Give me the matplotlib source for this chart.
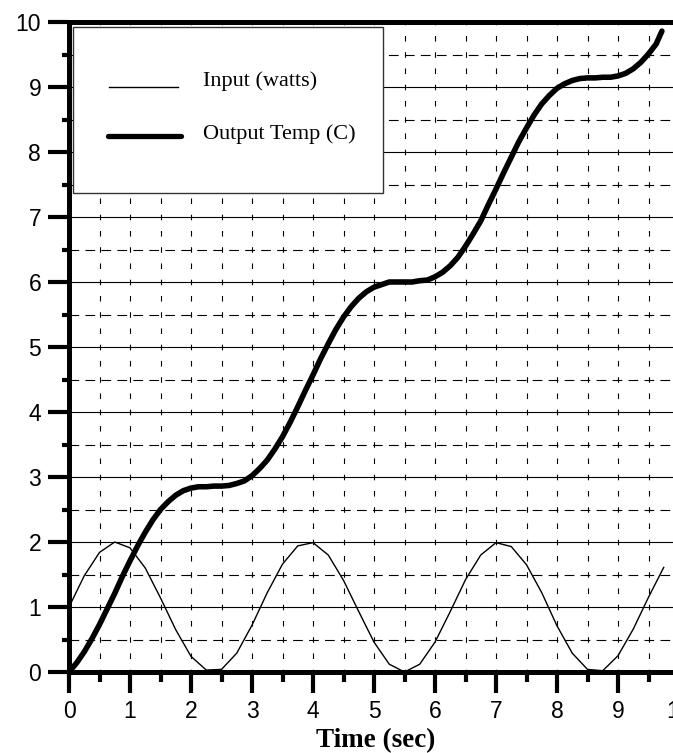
import matplotlib
matplotlib.use("Agg")
import matplotlib.pyplot as plt
from matplotlib.ticker import MultipleLocator
from matplotlib.patches import Rectangle
from matplotlib.lines import Line2D

plt.rcParams['lines.scale_dashes'] = False

# ---- data ----
time_in = [0, 0.25, 0.5, 0.75, 1.0, 1.25, 1.5, 1.75, 2.0, 2.25, 2.5, 2.75,
           3.0, 3.25, 3.5, 3.75, 4.0, 4.25, 4.5, 4.75, 5.0, 5.25, 5.5, 5.75,
           6.0, 6.25, 6.5, 6.75, 7.0, 7.25, 7.5, 7.75, 8.0, 8.25, 8.5, 8.75,
           9.0, 9.25, 9.5, 9.75]
input_watts = [1.00, 1.48, 1.84, 2.00, 1.91, 1.60, 1.14, 0.65, 0.24, 0.03, 0.04, 0.29,
               0.72, 1.22, 1.66, 1.94, 1.99, 1.80, 1.41, 0.93, 0.46, 0.12, 0.00, 0.12,
               0.46, 0.93, 1.42, 1.80, 1.99, 1.93, 1.65, 1.22, 0.71, 0.29, 0.04, 0.02,
               0.25, 0.66, 1.15, 1.61]

time_out = [0, 0.125, 0.25, 0.375, 0.5, 0.625, 0.75, 0.875, 1.0, 1.125, 1.25, 1.375,
            1.5, 1.625, 1.75, 1.875, 2.0, 2.125, 2.25, 2.375, 2.5, 2.625, 2.75, 2.875,
            3.0, 3.125, 3.25, 3.375, 3.5, 3.625, 3.75, 3.875, 4.0, 4.125, 4.25, 4.375,
            4.5, 4.625, 4.75, 4.875, 5.0, 5.125, 5.25, 5.375, 5.5, 5.625, 5.75, 5.875,
            6.0, 6.125, 6.25, 6.375, 6.5, 6.625, 6.75, 6.875, 7.0, 7.125, 7.25, 7.375,
            7.5, 7.625, 7.75, 7.875, 8.0, 8.125, 8.25, 8.375, 8.5, 8.625, 8.75, 8.875,
            9.0, 9.125, 9.25, 9.375, 9.5, 9.625, 9.72]
output_temp = [0.00, 0.14, 0.31, 0.51, 0.73, 0.97, 1.21, 1.47, 1.71, 1.94, 2.15, 2.34,
               2.50, 2.62, 2.72, 2.79, 2.83, 2.85, 2.85, 2.86, 2.86, 2.87, 2.90, 2.94,
               3.02, 3.13, 3.26, 3.43, 3.62, 3.84, 4.08, 4.33, 4.57, 4.82, 5.05, 5.27,
               5.46, 5.62, 5.75, 5.85, 5.92, 5.96, 6.00, 6.00, 6.00, 6.00, 6.02, 6.03,
               6.08, 6.15, 6.25, 6.38, 6.55, 6.74, 6.94, 7.19, 7.43, 7.68, 7.92, 8.16,
               8.37, 8.57, 8.74, 8.87, 8.98, 9.05, 9.10, 9.13, 9.14, 9.14, 9.15, 9.15,
               9.17, 9.21, 9.28, 9.38, 9.51, 9.66, 9.86]

x_ticks = list(range(0, 11))
y_ticks = list(range(0, 11))
legend_labels = ["Input (watts)", "Output Temp (C)"]
x_label = "Time (sec)"

# ---- figure ----
W, H = 673, 753
fig = plt.figure(figsize=(W / 100, H / 100), dpi=100)
ax_left, ax_right, ax_top, ax_bottom = 69, 679, 22, 672
ax = fig.add_axes([ax_left / W, (H - ax_bottom) / H,
                   (ax_right - ax_left) / W, (ax_bottom - ax_top) / H])
ax.set_xlim(0, 10)
ax.set_ylim(0, 10)

ax.xaxis.set_minor_locator(MultipleLocator(0.5))
ax.yaxis.set_minor_locator(MultipleLocator(0.5))
ax.set_xticks(x_ticks)
ax.set_yticks(y_ticks)

# grid
ax.grid(which='major', axis='y', color='black', lw=0.8, ls='-')
ax.grid(which='minor', axis='y', color='black', lw=0.8, ls=(0, (7, 4.5)))
ax.grid(which='both', axis='x', color='black', lw=0.8, ls=(2, (4, 7.7)))
ax.set_axisbelow(True)

# curves
ax.plot(time_in, input_watts, color='black', lw=1.0, zorder=3)
ax.plot(time_out, output_temp, color='black', lw=4.0, zorder=4,
        solid_capstyle='round', solid_joinstyle='round')

# spines
for s in ['left', 'bottom', 'top']:
    ax.spines[s].set_linewidth(3.6)
    ax.spines[s].set_zorder(6)
ax.spines['right'].set_visible(False)

# ticks
ax.tick_params(axis='both', which='major', direction='out', length=15, width=3,
               labelsize=16.5, color='black')
ax.tick_params(axis='x', which='major', pad=5.5)
ax.tick_params(axis='y', which='major', pad=5)
ax.tick_params(axis='both', which='minor', direction='out', length=5, width=3,
               color='black')
ax.tick_params(axis='x', which='minor', length=7)
ax.tick_params(top=False, right=False)
for lab in ax.get_xticklabels() + ax.get_yticklabels():
    lab.set_fontfamily('Liberation Sans')

# x axis title
fig.text(376 / W, (H - 747) / H, x_label, fontfamily='Liberation Serif',
         fontweight='bold', fontsize=19.5, ha='center', va='baseline')

# legend drawn manually
def ax_x(px):
    return (px - ax_left) / (ax_right - ax_left)

def ax_y(py):
    return (ax_bottom - py) / (ax_bottom - ax_top)

box = Rectangle((ax_x(73), ax_y(193)), ax_x(383) - ax_x(73), ax_y(27) - ax_y(193),
                transform=ax.transAxes, facecolor='white', edgecolor='#333333',
                lw=1.0, zorder=7)
ax.add_patch(box)
ax.add_line(Line2D([ax_x(109), ax_x(178)], [ax_y(87), ax_y(87)], transform=ax.transAxes,
                   color='black', lw=1.0, zorder=8))
ax.add_line(Line2D([ax_x(108), ax_x(181)], [ax_y(136), ax_y(136)], transform=ax.transAxes,
                   color='black', lw=3.8, zorder=8, solid_capstyle='round'))
ax.text(ax_x(203), ax_y(81), legend_labels[0], transform=ax.transAxes,
        fontfamily='Liberation Serif', fontsize=16, va='center', ha='left', zorder=9)
ax.text(ax_x(203), ax_y(134), legend_labels[1], transform=ax.transAxes,
        fontfamily='Liberation Serif', fontsize=16, va='center', ha='left', zorder=9)

fig.savefig('out.png', dpi=100)
